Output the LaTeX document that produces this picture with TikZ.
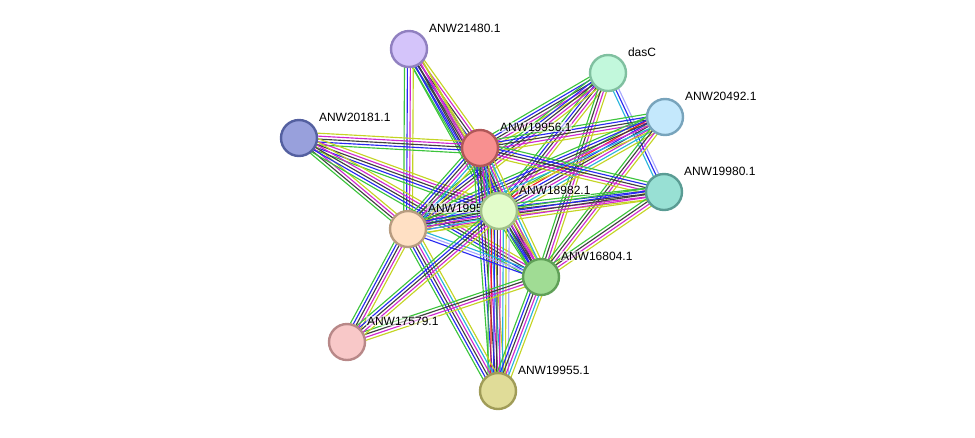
\documentclass[tikz,border=0pt]{standalone}
\usepackage{fontspec}
\setmainfont{Liberation Sans}
\usetikzlibrary{calc}
\pgfdeclarelayer{bg}
\pgfsetlayers{bg,main}
\definecolor{cn}{HTML}{3CC43C}
\definecolor{cf}{HTML}{F02020}
\definecolor{cc}{HTML}{2828F0}
\definecolor{cx}{HTML}{404040}
\definecolor{ce}{HTML}{D028D0}
\definecolor{cd}{HTML}{28B4DC}
\definecolor{ct}{HTML}{C4D424}
\definecolor{ch}{HTML}{A8A8FF}
\tikzset{
  prot/.style={circle, minimum size=27pt, inner sep=0pt, line width=1.8pt},
  lbl/.style={anchor=west, font=\fontsize{9}{10}\selectfont, inner sep=0.6pt, fill=white, fill opacity=0.55, text opacity=1},
  edgeline/.style={line width=0.85pt}
}
\newcommand{\bsp}{2.2}
\newcommand{\bund}[3]{%
  \foreach \cl [count=\ii] in {#3} {\xdef\nbund{\ii}}%
  \foreach \cl [count=\ii] in {#3} {%
    \pgfmathsetmacro{\off}{(\ii-(\nbund+1)/2)*\bsp}%
    \draw[edgeline, \cl] ($(#1.center)!\off pt!90:(#2.center)$) -- ($(#2.center)!\off pt!-90:(#1.center)$);
  }%
}
\begin{document}
\begin{tikzpicture}[x=0.75pt, y=-0.75pt]
\useasboundingbox (0,0) rectangle (975,437);
% nodes
\node[prot, fill={rgb,255:red,212;green,196;blue,250}, draw={rgb,255:red,144;green,128;blue,192}] (A) at (409,49) {};
\node[lbl] (Alab) at (428,28) {ANW21480.1};
\node[prot, fill={rgb,255:red,194;green,248;blue,220}, draw={rgb,255:red,128;green,192;blue,160}] (D) at (608,73) {};
\node[lbl] (Dlab) at (627,52) {dasC};
\node[prot, fill={rgb,255:red,196;green,232;blue,252}, draw={rgb,255:red,120;green,164;blue,188}] (B) at (665,117) {};
\node[lbl] (Blab) at (684,96) {ANW20492.1};
\node[prot, fill={rgb,255:red,152;green,160;blue,220}, draw={rgb,255:red,84;green,96;blue,160}] (C) at (299,138) {};
\node[lbl] (Clab) at (318,117) {ANW20181.1};
\node[prot, fill={rgb,255:red,248;green,144;blue,144}, draw={rgb,255:red,176;green,88;blue,88}] (R) at (480,148) {};
\node[lbl] (Rlab) at (499,127) {ANW19956.1};
\node[prot, fill={rgb,255:red,152;green,224;blue,212}, draw={rgb,255:red,90;green,156;blue,148}] (T) at (664,192) {};
\node[lbl] (Tlab) at (683,171) {ANW19980.1};
\node[prot, fill={rgb,255:red,255;green,224;blue,196}, draw={rgb,255:red,184;green,156;blue,128}] (P) at (408,229) {};
\node[lbl] (Plab) at (427,208) {ANW1995};
\node[prot, fill={rgb,255:red,226;green,252;blue,202}, draw={rgb,255:red,160;green,192;blue,136}] (Y) at (499,211) {};
\node[lbl] (Ylab) at (518,190) {ANW18982.1};
\node[prot, fill={rgb,255:red,160;green,220;blue,148}, draw={rgb,255:red,96;green,160;blue,88}] (G) at (541,277) {};
\node[lbl] (Glab) at (560,256) {ANW16804.1};
\node[prot, fill={rgb,255:red,248;green,200;blue,200}, draw={rgb,255:red,184;green,136;blue,136}] (K) at (347,342) {};
\node[lbl] (Klab) at (366,321) {ANW17579.1};
\node[prot, fill={rgb,255:red,224;green,220;blue,152}, draw={rgb,255:red,160;green,156;blue,88}] (H) at (498,391) {};
\node[lbl] (Hlab) at (517,370) {ANW19955.1};
% edges
\begin{pgfonlayer}{bg}
\bund{A}{R}{cn,cc,cx,ce,ct}
\bund{A}{Y}{cn,cc,cx,ce,ct}
\bund{A}{G}{cn,cc,cx,ce,ct}
\bund{A}{P}{cn,cc,ce,ct}
\bund{C}{R}{cn,cc,cx,ce,ct}
\bund{C}{Y}{cn,cc,cx,ce,ct}
\bund{C}{P}{cn,cx,ce,ct}
\bund{C}{G}{cn,cc,cx,ce,ct}
\bund{D}{R}{cn,cc,cx,ce,ct}
\bund{D}{Y}{cn,cc,cx,ce,ct}
\bund{D}{P}{cn,cc,cx,ce,ct}
\bund{D}{G}{cn,cx,ce,ct}
\bund{D}{T}{cd,cc,ch}
\bund{B}{R}{cn,cc,cx,ce,ct}
\bund{B}{Y}{cn,cf,cc,cx,ce,cd,ct}
\bund{B}{P}{cn,cc,cx,ce,cd,ct}
\bund{B}{G}{cn,cx,ce,ct}
\bund{T}{R}{cn,cc,cx,ce,ct}
\bund{T}{Y}{cn,cc,cx,ce,ct}
\bund{T}{P}{cn,cc,cx,ce,ct}
\bund{T}{G}{cn,cx,ce,ct}
\bund{R}{Y}{cn,cc,cx,ce,cd,ct}
\bund{R}{P}{cn,cc,cx,ce,cd,ct}
\bund{R}{G}{cn,cc,cx,ce,cd,ct}
\bund{R}{H}{cn,cc,cx,ce,cd,ct}
\bund{Y}{P}{cn,cc,cx,ce,cd,ct}
\bund{Y}{G}{cn,cc,cx,ce,ct}
\bund{Y}{H}{cn,cf,cc,cx,ce,cd,ct,ch}
\bund{P}{G}{cc,ch,cd}
\bund{P}{K}{cn,cc,cx,ce,ct}
\bund{P}{H}{cn,cc,cx,ce,cd,ct}
\bund{G}{K}{cn,cx,ce,ct}
\bund{G}{H}{cn,cc,cx,ce,cd,ct}
\bund{Y}{K}{cn,cc,cx,ce,ct}
\end{pgfonlayer}
\end{tikzpicture}
\end{document}
